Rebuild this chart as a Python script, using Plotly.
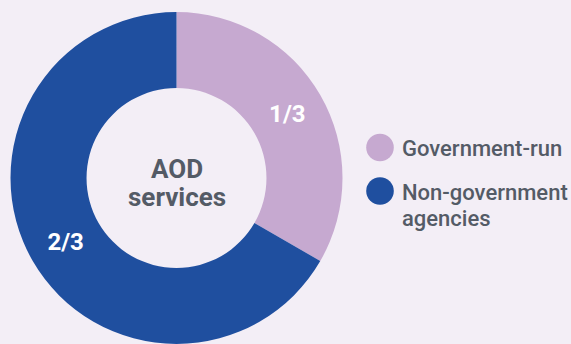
import plotly.graph_objects as go

# Share of alcohol and other drug (AOD) services by provider type
categories = ["Government-run", "Non-government agencies"]
shares = [1, 2]
share_labels = ["1/3", "2/3"]
legend_lines = [["Government-run"], ["Non-government", "agencies"]]
colors = ["#c6a9d0", "#1f4f9f"]

W, H = 571, 344
BG = "#f3eef6"
TEXT = "#545b66"
FONT = "Roboto"


def px(x):
    return x / W


def py(y):
    return 1 - y / H


fig = go.Figure()
fig.add_trace(go.Pie(
    labels=categories,
    values=shares,
    text=share_labels,
    textinfo="text",
    textposition="inside",
    insidetextorientation="horizontal",
    textfont=dict(family=FONT, size=24, color="white", weight="bold"),
    marker=dict(colors=colors, line=dict(width=0)),
    hole=0.542,
    sort=False,
    direction="clockwise",
    rotation=0,
    showlegend=False,
    hoverinfo="label+text",
    domain=dict(x=[px(10.5), px(342.5)], y=[0, 332 / H]),
))

annotations = [
    dict(text="AOD", x=px(176.5), y=py(169), font=dict(size=26, weight="bold")),
    dict(text="services", x=px(176.5), y=py(197), font=dict(size=26, weight="bold")),
]
shapes = []
legend_rows = [147.5, 191]
for color, lines, cy in zip(colors, legend_lines, legend_rows):
    r = 13.8
    shapes.append(dict(type="circle", xref="paper", yref="paper",
                       x0=px(380 - r), x1=px(380 + r), y0=py(cy + r), y1=py(cy - r),
                       fillcolor=color, line=dict(width=0)))
    for i, line in enumerate(lines):
        annotations.append(dict(text=line, x=px(400), y=py(cy + 1 + i * 26),
                                xanchor="left", font=dict(size=22, weight=500)))

for a in annotations:
    a.setdefault("xanchor", "center")
    a.update(xref="paper", yref="paper", yanchor="middle", showarrow=False)
    a["font"].update(family=FONT, color=TEXT)

fig.update_layout(
    width=W, height=H,
    margin=dict(l=0, r=0, t=0, b=0),
    paper_bgcolor=BG, plot_bgcolor=BG,
    annotations=annotations,
    shapes=shapes,
)

fig.write_html("out.html")
